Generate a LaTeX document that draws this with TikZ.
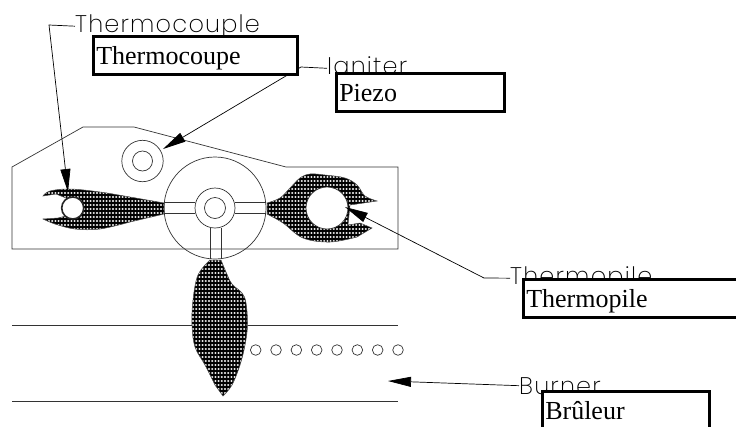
\documentclass[tikz,border=0pt]{standalone}
\usepackage{fontspec}
\setmainfont{Liberation Serif}
\newfontfamily\plotfont[LetterSpace=5]{Poppins ExtraLight}
\usetikzlibrary{arrows.meta,patterns}
\pgfdeclarepatternformonly{flamedots}{\pgfqpoint{-1pt}{-1pt}}{\pgfqpoint{4pt}{4pt}}{\pgfqpoint{3.2pt}{4pt}}{%
	\pgfpathellipse{\pgfqpoint{1pt}{1pt}}{\pgfqpoint{1.15pt}{0pt}}{\pgfqpoint{0pt}{1pt}}
	\pgfusepath{fill}
}
\tikzset{
	namebox/.style={draw,line width=2.5pt,fill=white,anchor=north west,minimum height=38pt,inner xsep=3pt,inner ysep=0pt,align=left,text height=24pt,text depth=6pt,font=\fontsize{26}{28}\selectfont},
	partlabel/.style={anchor=base west,inner sep=0pt,text=black,font=\plotfont\fontsize{24}{26}\selectfont},
	leader/.style={line width=.7pt,-{Triangle[length=23pt,width=10pt]}},
	flame/.style={draw=black!70,line width=.5pt,preaction={fill=black},pattern=flamedots,pattern color=white},
	thin part/.style={line width=.7pt,draw=black!80}
}
\begin{document}
\begin{tikzpicture}[x=1pt,y=-1pt]
	\useasboundingbox (0,0) rectangle (736,426);
	% casing and burner lines
	\draw[thin part] (12,167) -- (83,127) -- (134,127) -- (286,167) -- (398,167) -- (398,249) -- (12,249) -- cycle;
	\draw[thin part] (12,325) -- (398,325);
	\draw[thin part] (12,401) -- (398,401);
	% flames
	\draw[flame] plot[smooth,tension=.6] coordinates {(43,196) (50,191) (70,189) (100,192) (130,197) (164,203)} -- (164,214)
		-- plot[smooth,tension=.6] coordinates {(130,222) (100,229) (75,229) (55,224) (43,219)}
		-- (58,218) -- (66,216) -- (66,198) -- (56,194) -- cycle;
	\draw[flame] plot[smooth,tension=.6] coordinates {(267,203) (280,198) (290,188) (300,178) (310,174) (325,175) (345,178) (357,185) (365,196) (377,201)}
		-- (350,205) -- (348,225)
		-- plot[smooth,tension=.6] coordinates {(360,223) (372,228)}
		-- plot[smooth,tension=.6] coordinates {(357,237) (330,242) (303,238) (283,223) (267,214)} -- cycle;
	\draw[flame] plot[smooth,tension=.6] coordinates {(221,260) (226,272) (232,284) (242,293) (246,303) (247.5,325) (245,345) (240,365) (232,385) (223,396)}
		-- plot[smooth,tension=.6] coordinates {(215,385) (205,365) (195,347) (192,325) (193,300) (198,275) (210,260)} -- cycle;
	% pilot
	\draw[thin part] (215,208) circle (51);
	\draw[thin part] (164,202) -- (195,202) (164,213) -- (195,213);
	\draw[thin part] (235,202) -- (266,202) (235,213) -- (266,213);
	\draw[thin part] (210,228) -- (210,259) (221,228) -- (221,259);
	\draw[thin part] (215,208) circle (20);
	\draw[thin part] (215,208) circle (10.5);
	\draw[thin part] (142.5,161) circle (20.7);
	\draw[thin part] (142.5,161) circle (10);
	\draw[line width=1.6pt,draw=black!85,fill=white] (72.7,208) circle (11);
	\draw[thin part,fill=white] (327,208) circle (21);
	% ports
	\foreach \i in {0,...,7}
		\draw[thin part] (255.7+20.33*\i,350) circle (5.3);
	% labels under their boxes
	\node[partlabel] (thermocouplelabel) at (75,32) {Thermocouple};
	\node[partlabel] (igniterlabel) at (327,74) {Igniter};
	\node[partlabel] (thermopilelabel) at (510,284) {Thermopile};
	\node[partlabel] (burnerlabel) at (519,394) {Burner};
	% leaders
	\coordinate (thermocoupletip) at (68,192);
	\coordinate (ignitertip) at (163,149);
	\coordinate (thermopiletip) at (345,207);
	\coordinate (burnertip) at (388,381);
	\coordinate (thermocouplebend) at (49,25);
	\coordinate (igniterbend) at (301,67);
	\coordinate (thermopilebend) at (484,278);
	\draw[leader] (thermocouplelabel.west) -- (thermocouplebend) -- (thermocoupletip);
	\draw[leader] (igniterlabel.west) -- (igniterbend) -- (ignitertip);
	\draw[leader] (thermopilelabel.west) -- (thermopilebend) -- (thermopiletip);
	\draw[leader] (burnerlabel.west) -- (burnertip);
	% french names
	\node[namebox,text width=198pt] (thermocoupebox) at (92,35) {Thermocoupe};
	\node[namebox,text width=162pt] (piezobox) at (335,72) {Piezo};
	\node[namebox,text width=230pt] (thermopilebox) at (522,278) {Thermopile};
	\node[namebox,text width=161pt] (bruleurbox) at (541,390) {Brûleur};
\end{tikzpicture}
\end{document}
